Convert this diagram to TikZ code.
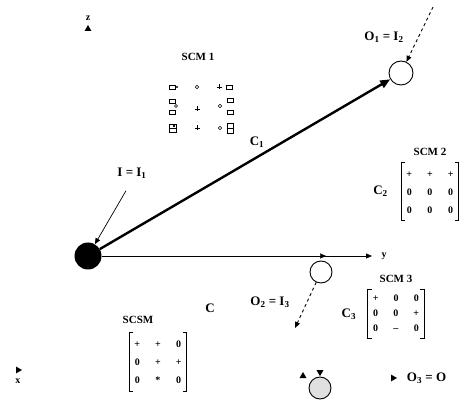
\documentclass[tikz,border=0pt]{standalone}
\usepackage{fontspec}
\setmainfont{Liberation Serif}
\usepackage{tikz}
\usetikzlibrary{positioning,arrows.meta,decorations.markings,shapes.geometric}

\tikzset{
    punto/.style={circle, draw, line width=0.9pt, minimum size=#1, inner sep=0pt},
    segno/.style={regular polygon, regular polygon sides=3, fill=black, inner sep=0pt, minimum size=8pt},
    etichetta/.style={font=\bfseries\fontsize{13}{15}\selectfont},
    titolo/.style={font=\bfseries\fontsize{11}{13}\selectfont},
    tabella/.style={inner xsep=5pt, inner ysep=2pt},
}

\newcommand{\matrice}[2][1.5]{\renewcommand{\arraystretch}{#1}\begin{tabular}{@{}c@{\hspace{15pt}}c@{\hspace{15pt}}c@{}}#2\end{tabular}}
\newcommand{\parentesi}[1]{%
    \draw[line width=0.8pt] ([xshift=4pt]#1.north west) -- (#1.north west) -- (#1.south west) -- ([xshift=4pt]#1.south west)
        ([xshift=-4pt]#1.north east) -- (#1.north east) -- (#1.south east) -- ([xshift=-4pt]#1.south east);}

\begin{document}
\begin{tikzpicture}[x=1pt, y=-1pt, font=\bfseries, >={Triangle[length=6pt, width=5pt]}]
    \useasboundingbox (0,0) rectangle (472,401);

    % assi
    \node[segno] (zt) at (88,29) {};
    \node[above=1pt of zt] (z) {z};
    \node[segno, shape border rotate=-90] (xt) at (18,370) {};
    \node[below=3pt of xt] (x) {x};

    \node[circle, fill, minimum size=27pt, inner sep=0pt] (I) at (88,256) {};
    \coordinate (yend) at (372,256);
    \node[right=6pt of yend] (y) {y};
    \draw[
        postaction={
            decorate,
            decoration={
                markings,
                mark=at position 0.83 with {\arrow{>}}
            }
        }, ->
    ] (I) -- (yend);

    % primo passo
    \node[punto=24pt] (O1) at (401,73) {};
    \draw[line width=2.4pt, -{Triangle[length=10pt, width=8pt]}] (I) -- (O1);
    \node[etichetta] (c1) at (257,142) {C\textsubscript{1}};
    \node[etichetta] (lO1) at (384,37) {O\textsubscript{1} = I\textsubscript{2}};
    \coordinate (d1) at (433,7);
    \draw[dashed, line width=0.9pt, ->] (d1) -- (O1);
    \node[etichetta] (lI) at (132,173) {I = I\textsubscript{1}};
    \draw[line width=0.7pt, ->] ([xshift=-6pt, yshift=-9pt]lI.south) -- (I);

    % SCM 1
    \node[titolo] (scm1) at (198,57) {SCM 1};
    \begin{scope}[line width=0.6pt]
        \draw (169,85) rectangle (175,89); \fill (177,87) circle (1.2pt);
        \draw (197,87) circle (1.8pt);
        \draw (226,85) rectangle (232,89);
        \draw (169,99) rectangle (175,103); \draw (176,106) circle (1.5pt); \draw (169,110) rectangle (175,114);
        \draw (227,98) rectangle (233,102); \draw (220,106) circle (1.8pt); \draw (227,110) rectangle (233,114);
        \draw (169,124) rectangle (176,132); \draw (169,128) -- (176,128); \fill (174,126) circle (1.3pt);
        \draw (220,128) circle (1.8pt); \draw (227,123) rectangle (233,133); \draw (227,128) -- (233,128);
        \foreach \p in {(219,87),(197,109),(197,128)}
            \draw \p +(-2.5,0) -- +(2.5,0) \p +(0,-2.5) -- +(0,2.5);
    \end{scope}

    % SCM 2
    \node[titolo] (scm2) at (430,152) {SCM 2};
    \node[tabella, below=3pt of scm2] (m2) {\matrice{+&+&+\\0&0&0\\0&0&0}};
    \parentesi{m2}
    \node[etichetta, left=10pt of m2] (c2) {C\textsubscript{2}};

    % secondo passo
    \node[punto=22pt] (O2) at (321,272) {};
    \node[etichetta] (lO2) at (270,302) {O\textsubscript{2} = I\textsubscript{3}};
    \coordinate (d2) at (295,328);
    \draw[dashed, line width=0.9pt, ->] (O2) -- (d2);
    \node[etichetta] (c) at (210,308) {C};

    % SCM 3
    \node[titolo] (scm3) at (396,279) {SCM 3};
    \node[tabella, below=3pt of scm3] (m3) {\matrice[1.25]{+&0&0\\0&0&+\\0&--&0}};
    \parentesi{m3}
    \node[etichetta, left=8pt of m3] (c3) {C\textsubscript{3}};

    % SCSM
    \node[titolo] (scsm) at (138,320) {SCSM};
    \node[tabella] (ms) at (158,362) {\matrice{+&+&0\\0&+&+\\0&*&0}};
    \parentesi{ms}

    % uscita
    \node[punto=22pt, fill=black!12] (O3) at (320,388) {};
    \node[segno, shape border rotate=180, above=0pt of O3] (t1) {};
    \node[segno] (t2) at (303,376) {};
    \node[segno, shape border rotate=-90] (t3) at (393,378) {};
    \node[etichetta, right=6pt of t3] (lO3) {O\textsubscript{3} = O};
\end{tikzpicture}
\end{document}
